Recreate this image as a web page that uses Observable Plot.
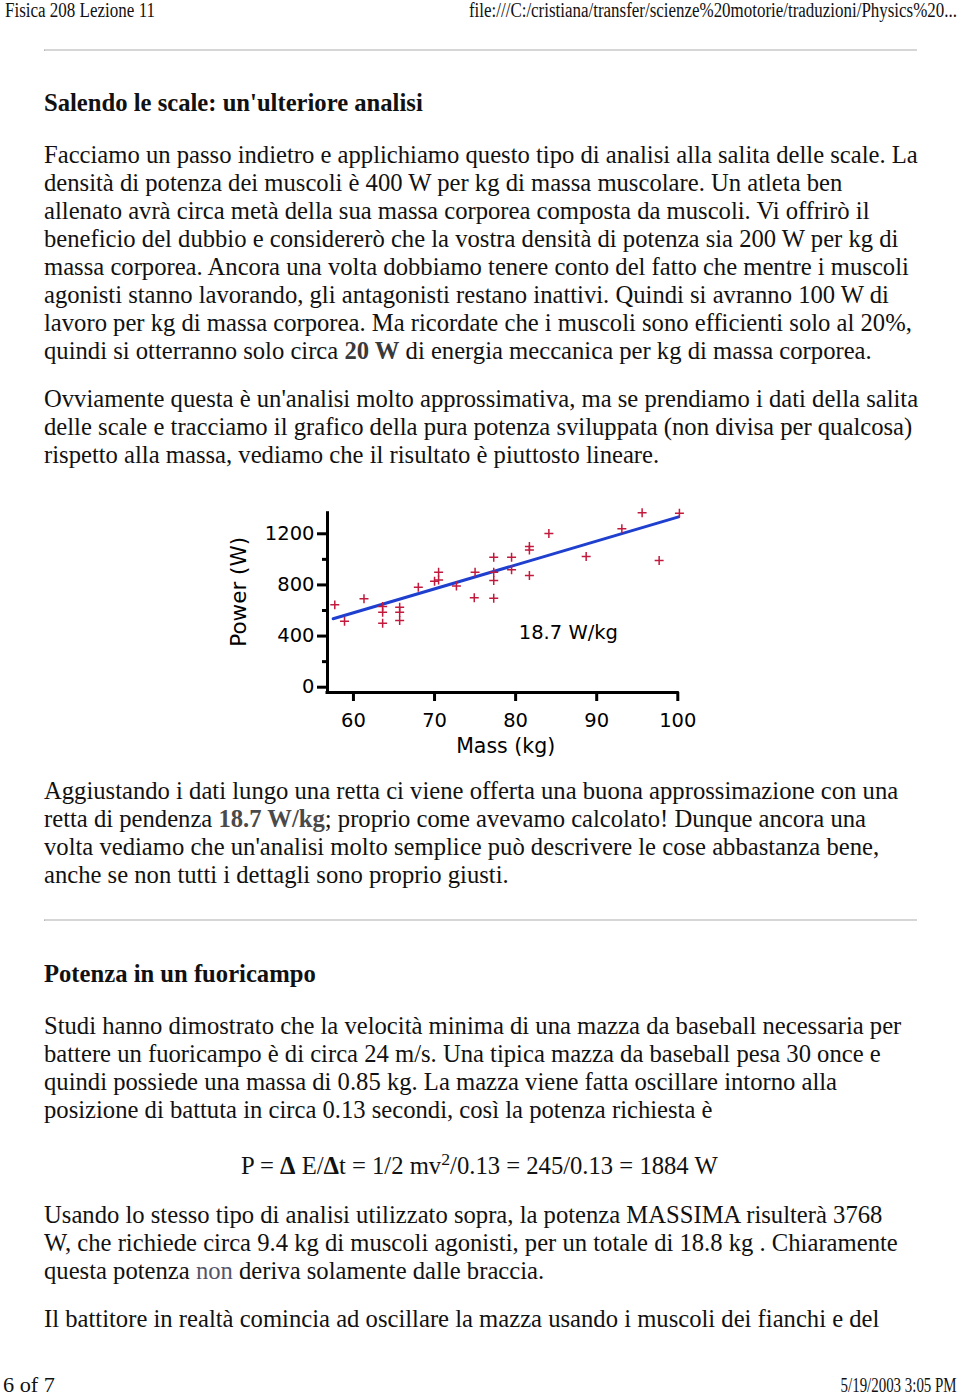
<!DOCTYPE html>
<html>
<head>
<meta charset="utf-8">
<script src="https://cdn.jsdelivr.net/npm/d3@7"></script>
<script src="https://cdn.jsdelivr.net/npm/@observablehq/plot@0.6"></script>
<style>
html,body{margin:0;padding:0;background:#fff;}
body{width:960px;height:1394px;position:relative;overflow:hidden;font-family:"Liberation Serif","Times New Roman",serif;color:#111;}
.ln{position:absolute;white-space:nowrap;line-height:1;}
.hr{position:absolute;left:44px;width:872px;height:0;border-top:2px solid #d6d6d6;border-left:1px solid #aaa;}
.b1{font-weight:bold;color:#3a3a3a;}
.b2{font-weight:bold;color:#4a4a4a;}
.g{color:#55556a;}
.sup{position:relative;top:-0.55em;font-size:0.72em;}
#chart{position:absolute;left:220px;top:490px;}
</style>
</head>
<body>
<div class="hr" style="top:49px"></div>
<div class="hr" style="top:919px"></div>
<div id="chart"></div>
<script>
// ---------------- chart data ----------------
const masses = [57.7, 58.9, 61.3, 63.6, 63.6, 63.6, 65.7, 65.7, 65.7, 68.0,
                70.0, 70.5, 70.5, 72.7, 75.0, 74.9, 77.3, 77.3, 77.3, 77.3,
                79.5, 79.5, 81.7, 81.7, 81.7, 84.1, 88.7, 93.1, 95.6, 97.7, 100.2];
const powers = [644, 516, 691, 631, 587, 500, 626, 587, 522, 782,
                829, 838, 899, 791, 899, 699, 1017, 899, 834, 696,
                1017, 918, 1100, 1074, 873, 1202, 1022, 1239, 1364, 991, 1361];
const fitMass = [57.5, 100.1];
const fitPower = [535, 1332];
const fitLabel = "18.7 W/kg";
const fitLabelMass = 86.5;
const fitLabelPower = 426;
const xTicks = [60, 70, 80, 90, 100];
const yMajorTicks = [0, 400, 800, 1200];
const yMinorTicks = [200, 600, 1000];
const xDomain = [56.8, 100];
const yDomain = [-41.4, 1361];
const xLabel = "Mass (kg)";
const yLabel = "Power (W)";

// ---------------- page text ----------------
const headerLeft = "Fisica 208 Lezione 11";
const headerRight = "file:///C:/cristiana/transfer/scienze%20motorie/traduzioni/Physics%20...";
const footerLeft = "6 of 7";
const footerRight = "5/19/2003 3:05 PM";
const heading1 = "Salendo le scale: un'ulteriore analisi";
const heading2 = "Potenza in un fuoricampo";
const p1Lines = [
  "Facciamo un passo indietro e applichiamo questo tipo di analisi alla salita delle scale. La",
  "densità di potenza dei muscoli è 400 W per kg di massa muscolare. Un atleta ben",
  "allenato avrà circa metà della sua massa corporea composta da muscoli. Vi offrirò il",
  "beneficio del dubbio e considererò che la vostra densità di potenza sia 200 W per kg di",
  "massa corporea. Ancora una volta dobbiamo tenere conto del fatto che mentre i muscoli",
  "agonisti stanno lavorando, gli antagonisti restano inattivi. Quindi si avranno 100 W di",
  "lavoro per kg di massa corporea. Ma ricordate che i muscoli sono efficienti solo al 20%,",
  "quindi si otterranno solo circa <span class='b1'>20 W</span> di energia meccanica per kg di massa corporea."
];
const p2Lines = [
  "Ovviamente questa è un'analisi molto approssimativa, ma se prendiamo i dati della salita",
  "delle scale e tracciamo il grafico della pura potenza sviluppata (non divisa per qualcosa)",
  "rispetto alla massa, vediamo che il risultato è piuttosto lineare."
];
const p3Lines = [
  "Aggiustando i dati lungo una retta ci viene offerta una buona approssimazione con una",
  "retta di pendenza <span class='b2'>18.7 W/kg</span>; proprio come avevamo calcolato! Dunque ancora una",
  "volta vediamo che un'analisi molto semplice può descrivere le cose abbastanza bene,",
  "anche se non tutti i dettagli sono proprio giusti."
];
const p4Lines = [
  "Studi hanno dimostrato che la velocità minima di una mazza da baseball necessaria per",
  "battere un fuoricampo è di circa 24 m/s. Una tipica mazza da baseball pesa 30 once e",
  "quindi possiede una massa di 0.85 kg. La mazza viene fatta oscillare intorno alla",
  "posizione di battuta in circa 0.13 secondi, così la potenza richiesta è"
];
const formula = "P = <b>Δ</b> E/<b>Δ</b>t = 1/2 mv<span class='sup'>2</span>/0.13 = 245/0.13 = 1884 W";
const p5Lines = [
  "Usando lo stesso tipo di analisi utilizzato sopra, la potenza MASSIMA risulterà 3768",
  "W, che richiede circa 9.4 kg di muscoli agonisti, per un totale di 18.8 kg . Chiaramente",
  "questa potenza <span class='g'>non</span> deriva solamente dalle braccia."
];
const p6Lines = [
  "Il battitore in realtà comincia ad oscillare la mazza usando i muscoli dei fianchi e del"
];

// ---------------- layout helpers ----------------
const BODY_FS = 24.65;
function line(html, baseline, opts = {}) {
  const fs = opts.fs || BODY_FS;
  const d = document.createElement("div");
  d.className = "ln";
  d.style.fontSize = fs + "px";
  d.style.top = (baseline - 0.8375 * fs) + "px";
  if (opts.right != null) d.style.right = opts.right + "px";
  else d.style.left = (opts.left != null ? opts.left : 44) + "px";
  if (opts.bold) d.style.fontWeight = "bold";
  d.innerHTML = html;
  document.body.appendChild(d);
  if (opts.width) {
    const w = d.getBoundingClientRect().width;
    d.style.transformOrigin = opts.right != null ? "right top" : "left top";
    d.style.transform = `scaleX(${opts.width / w})`;
  }
  return d;
}
function para(lines, firstBaseline, step = 28) {
  lines.forEach((t, i) => line(t, firstBaseline + i * step));
}

line(headerLeft, 16.5, {fs: 20, left: 5, width: 150});
line(headerRight, 16.5, {fs: 20, right: 3, width: 488});
line(footerLeft, 1392, {fs: 20, left: 3, width: 52});
line(footerRight, 1392, {fs: 20, right: 3, width: 116});

line(heading1, 111.7, {bold: true});
para(p1Lines, 163.3);
para(p2Lines, 407.3);
para(p3Lines, 800);
line(heading2, 983, {bold: true});
para(p4Lines, 1035);
line(formula, 1175, {left: 241});
para(p5Lines, 1224);
para(p6Lines, 1328);

// ---------------- chart ----------------
const points = masses.map((m, i) => ({mass: m, power: powers[i]}));
const fit = fitMass.map((m, i) => ({mass: m, power: fitPower[i]}));
const annotation = [{mass: fitLabelMass, power: fitLabelPower, label: fitLabel}];

const chart = Plot.plot({
  width: 490,
  height: 275,
  marginLeft: 107,
  marginRight: 32.7,
  marginTop: 22.7,
  marginBottom: 73,
  x: {domain: xDomain},
  y: {domain: yDomain},
  style: {fontFamily: "'DejaVu Sans', Verdana, sans-serif", fontSize: "19.5px", color: "#000", background: "transparent", overflow: "visible"},
  marks: [
    Plot.ruleX([xDomain[0]], {y1: yDomain[0], y2: yDomain[1], stroke: "#000", strokeWidth: 3, strokeLinecap: "square"}),
    Plot.ruleY([yDomain[0]], {x1: xDomain[0], x2: xTicks[xTicks.length - 1], stroke: "#000", strokeWidth: 3, strokeLinecap: "square"}),
    Plot.axisY({ticks: yMajorTicks, tickSize: 10, tickPadding: 3, strokeWidth: 3, fontSize: 19.5, tickFormat: d => String(d), label: null}),
    Plot.axisY({ticks: yMinorTicks, tickSize: 5, strokeWidth: 3, tickFormat: () => "", label: null}),
    Plot.axisX({ticks: xTicks, tickSize: 9, tickPadding: 12, strokeWidth: 3, fontSize: 19.5, tickFormat: d => String(d), label: null}),
    Plot.text([xLabel], {text: d => d, frameAnchor: "bottom", dx: 3, dy: 60, fontSize: 20.5}),
    Plot.text([yLabel], {text: d => d, frameAnchor: "left", textAnchor: "middle", rotate: -90, dx: -88, dy: -11, fontSize: 21.5}),
    Plot.line(fit, {x: "mass", y: "power", stroke: "#1f3fcf", strokeWidth: 3}),
    Plot.dot(points, {x: "mass", y: "power", symbol: "plus", r: 3, stroke: "#c21a3c", strokeWidth: 1.5}),
    Plot.text(annotation, {x: "mass", y: "power", text: "label", fontSize: 19.5})
  ]
});
document.getElementById("chart").appendChild(chart);
</script>
</body>
</html>
